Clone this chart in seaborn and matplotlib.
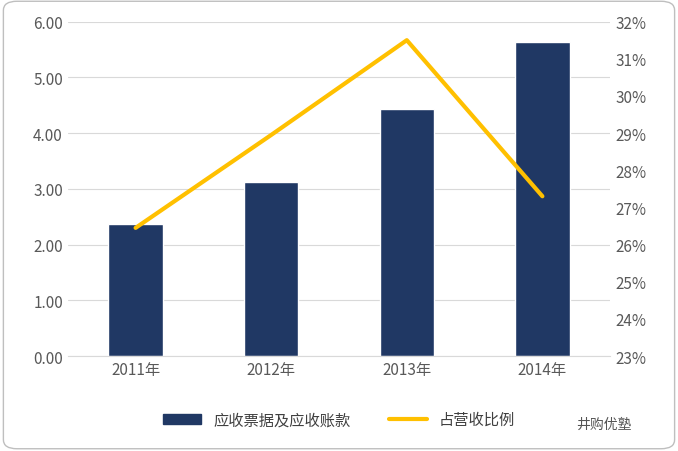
import matplotlib
matplotlib.use("Agg")
import matplotlib.pyplot as plt
import seaborn as sns
import pandas as pd
from matplotlib.patches import FancyBboxPatch

years = ["2011年", "2012年", "2013年", "2014年"]
receivables = [2.37, 3.12, 4.43, 5.64]
ratio = [26.45, 28.95, 31.5, 27.3]

sns.set_style("white")
plt.rcParams['font.family'] = ['Noto Sans CJK SC', 'DejaVu Sans']

fig = plt.figure(figsize=(6.78, 4.52), dpi=100)
ax = fig.add_axes([0.1, 0.21, 0.8, 0.74])
df = pd.DataFrame({"year": years, "v": receivables})
sns.barplot(data=df, x="year", y="v", color="#203864", width=0.4, ax=ax, saturation=1)
ax.set_ylim(0, 6)
ax.set_yticks([0, 1, 2, 3, 4, 5, 6])
ax.set_yticklabels([f"{v:.2f}" for v in range(7)])
ax.yaxis.grid(True, color="#d9d9d9", lw=0.8)
ax.set_axisbelow(True)
ax.set_xlabel(""); ax.set_ylabel("")
for s in ["top", "right", "left"]:
    ax.spines[s].set_visible(False)
ax.spines["bottom"].set_color("#d9d9d9")
ax.tick_params(axis="both", labelsize=11, colors="#595959", length=0)

ax2 = ax.twinx()
sns.lineplot(x=list(range(4)), y=ratio, color="#FFC000", lw=3, ax=ax2)
ax2.set_ylim(23, 32)
ax2.set_yticks(range(23, 33))
ax2.set_yticklabels([f"{v}%" for v in range(23, 33)])
for s in ax2.spines.values():
    s.set_visible(False)
ax2.tick_params(axis="y", labelsize=11, colors="#595959", length=0)
ax.set_xlim(-0.5, 3.5)

from matplotlib.patches import Rectangle
from matplotlib.lines import Line2D
h = [Rectangle((0, 0), 1, 1, color="#203864"), Line2D([], [], color="#FFC000", lw=3)]
fig.legend(h, ["应收票据及应收账款", "占营收比例"], loc="lower center", ncol=2,
           bbox_to_anchor=(0.5, 0.02), frameon=False, fontsize=11, labelcolor="#404040",
           handlelength=2.5, columnspacing=2.5)
fig.text(0.89, 0.06, "井购优塾", fontsize=10, color="#555555", ha="center", va="center")
fig.patches.append(FancyBboxPatch((0.005, 0.005), 0.99, 0.99, boxstyle="round,pad=0,rounding_size=0.02",
                                  transform=fig.transFigure, fill=False, ec="#bfbfbf", lw=1))
fig.savefig("out.png", dpi=100)
